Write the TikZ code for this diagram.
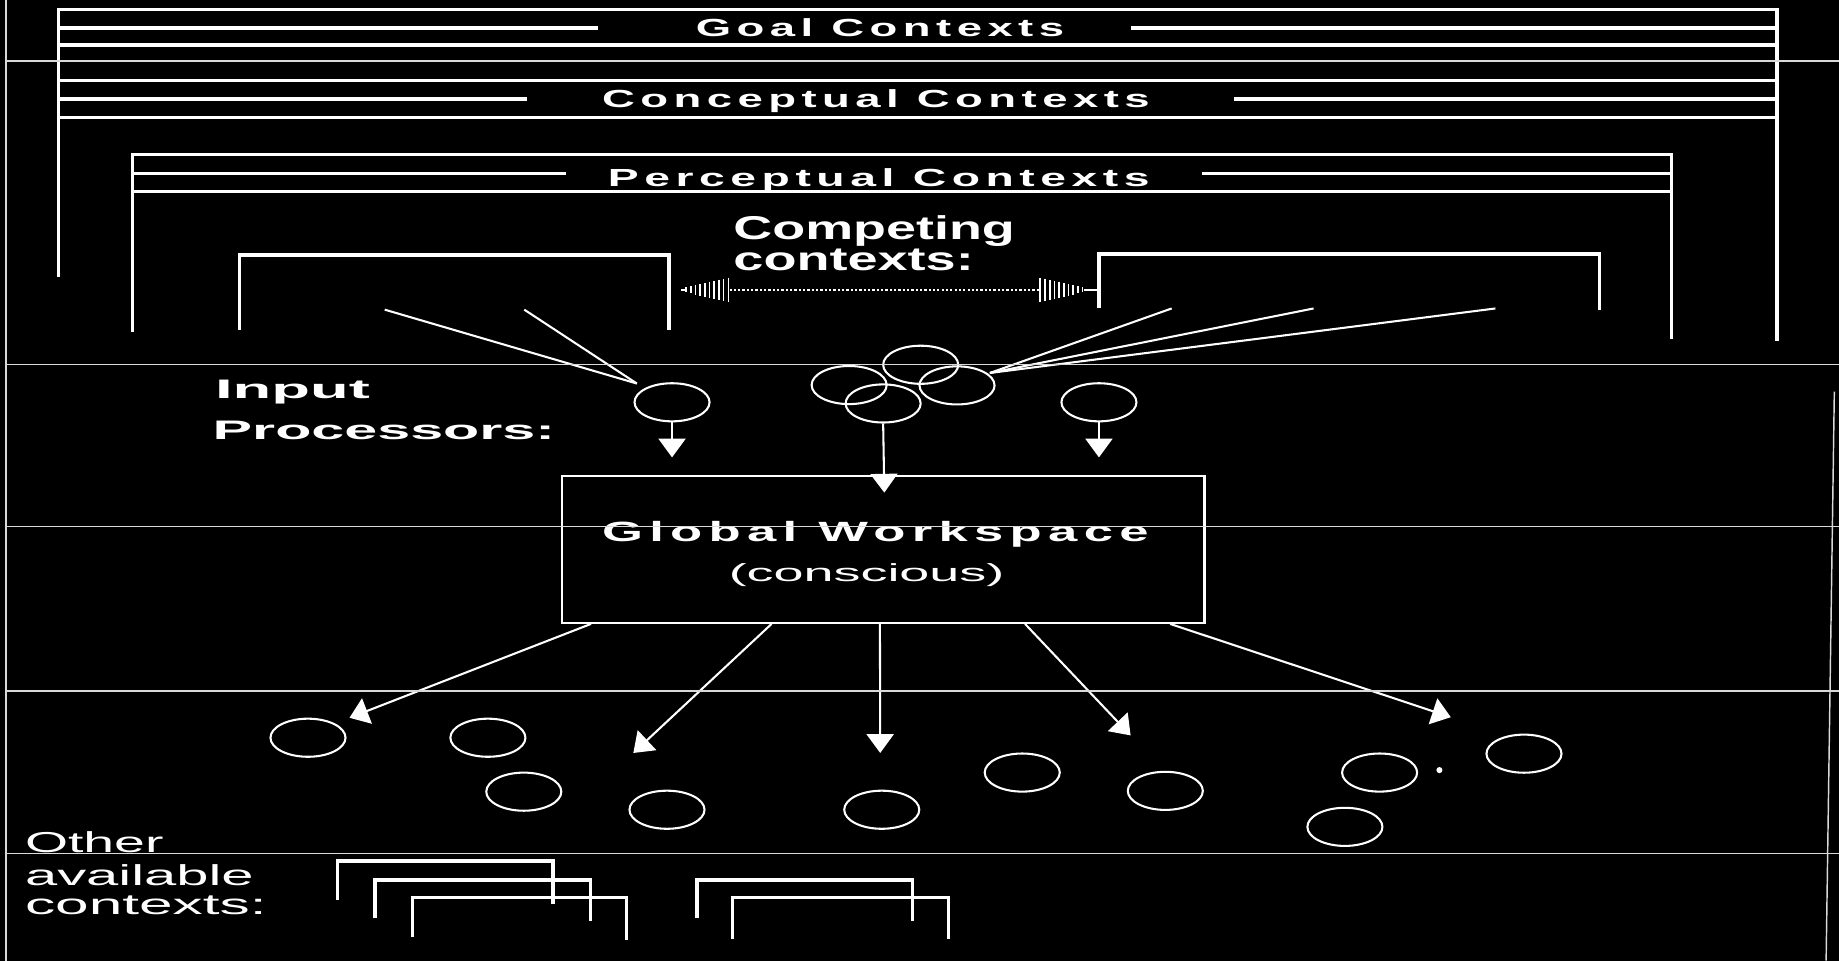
\documentclass[tikz,border=0pt]{standalone}
\usepackage{fontspec}
\usepackage{graphicx}
\setmainfont{Liberation Sans}
\newfontfamily\ttlfont{Liberation Sans}[LetterSpace=12]
\usetikzlibrary{shapes.geometric,arrows.meta,calc}
\newcommand\hs[2]{\resizebox{#1}{\height}{#2}}
\begin{document}
\begin{tikzpicture}[x=0.02cm,y=-0.02cm,
  wl/.style={draw=white,line width=1.6pt},
  scan/.style={draw=white!85!black,line width=0.7pt},
  ell/.style={ellipse,draw=white,line width=1pt,minimum width=1.28cm,minimum height=0.65cm,inner sep=0pt},
  arr/.style={draw=white,line width=1pt,-{Triangle[length=0.32cm,width=0.46cm]}},
  ctx/.style={draw=white,line width=1pt},
  txt/.style={text=white,inner sep=0pt,anchor=base west},
  ttl/.style={txt,font=\ttlfont\bfseries\fontsize{12}{14}\selectfont},
  bigb/.style={txt,font=\bfseries\fontsize{16}{19}\selectfont},
  midb/.style={txt,font=\bfseries\fontsize{13}{15}\selectfont},
  reg/.style={txt,font=\fontsize{14}{16}\selectfont},
  wave/.style={draw=white,line width=0.8pt}
  ]
\fill[black] (0,0) rectangle (1568,819);
\useasboundingbox (0,0) rectangle (1568,819);

% ---------- Goal / Conceptual contexts (outer bracket)
\draw[wl] (50,236) -- (50,8.2) -- (1515,8.2) -- (1515,291);
\draw[wl] (50,23.8) -- (510,23.8);
\draw[wl] (964,23.8) -- (1515,23.8);
\draw[wl] (50,38.4) -- (1515,38.4);
\draw[wl] (50,68.8) -- (1515,68.8);
\draw[wl] (50,84.5) -- (449,84.5);
\draw[wl] (1052,84.5) -- (1515,84.5);
\draw[wl] (50,100.1) -- (1515,100.1);
\node[ttl] (goal) at (593,31) {\hs{6.28cm}{Goal Contexts}};
\node[ttl] (concept) at (513,92) {\hs{9.34cm}{Conceptual Contexts}};

% ---------- Perceptual contexts
\draw[wl] (113,283) -- (113,132) -- (1425,132) -- (1425,289);
\draw[wl] (113,148) -- (483,148);
\draw[wl] (1025,148) -- (1425,148);
\draw[wl] (113,163.5) -- (1425,163.5);
\node[ttl] (percept) at (518,159) {\hs{9.24cm}{Perceptual Contexts}};

% ---------- Competing contexts
\draw[wl] (204.5,281) -- (204.5,217.5) -- (570.5,217.5) -- (570.5,281);
\draw[wl] (937,263) -- (937,216.5) -- (1364,216.5) -- (1364,264);
\node[bigb] (comp1) at (625,204.5) {\hs{4.8cm}{Competing}};
\node[bigb] (comp2) at (625,231) {\hs{4.1cm}{contexts:}};
\coordinate (cbL) at (570.5,247);
\coordinate (cbR) at (937,247);
\coordinate (wL) at (581,247);
\coordinate (wR) at (924,247);
\draw[wave] (wL) -- (586,247);
\foreach \i in {0,...,9}{
  \pgfmathsetmacro\xx{585+\i*4}
  \pgfmathsetmacro\hh{2.3+\i*0.9}
  \draw[wave] (\xx,247-\hh) -- (\xx,247+\hh);
  \pgfmathsetmacro\xr{887+\i*4}
  \pgfmathsetmacro\hr{10.4-\i*0.9}
  \draw[wave] (\xr,247-\hr) -- (\xr,247+\hr);
}
\draw[draw=white,line width=1pt,dash pattern=on 1.1pt off 1pt] (622,247) -- (887,247);
\draw[wave] (wR) -- (cbR);

% ---------- Input processors
\node[midb] (inp1) at (183,340) {\hs{2.64cm}{Input}};
\node[midb] (inp2) at (181,375) {\hs{5.84cm}{Processors:}};
\node[ell] (ipL) at (573,343) {};
\node[ell] (ipR) at (937,343) {};
\node[ell] (cA) at (785,311) {};
\node[ell] (cB) at (724,328.3) {};
\node[ell] (cD) at (816,328.6) {};
\node[ell] (cC) at (753,344) {};

% context influences
\coordinate (sL1) at (328,264);
\coordinate (sL2) at (447,264);
\coordinate (eL) at (543,327);
\draw[ctx] (sL1) -- (eL);
\draw[ctx] (sL2) -- (eL);
\coordinate (sR1) at (999,263);
\coordinate (sR2) at (1120,263);
\coordinate (sR3) at (1275,263);
\coordinate (eR) at (844,318);
\draw[ctx] (sR1) -- (eR);
\draw[ctx] (sR2) -- (eR);
\draw[ctx] (sR3) -- (eR);

% ---------- Global workspace
\node[draw=white,line width=1.1pt,minimum width=10.96cm,minimum height=2.5cm,inner sep=0pt] (ws) at (753,468.5) {};
\node[txt,font=\ttlfont\bfseries\fontsize{13.5}{15}\selectfont] (gw) at (513,462) {\hs{9.32cm}{Global Workspace}};
\node[txt,font=\fontsize{12}{14}\selectfont] (consc) at (621,496) {\hs{4.7cm}{(conscious)}};

\coordinate (tL) at (573,390);
\coordinate (tR) at (937,390);
\coordinate (t0) at (754,420);
\draw[arr] (ipL.south) -- (tL);
\draw[arr] (ipR.south) -- (tR);
\draw[arr] (cC.south) -- (t0);

% ---------- broadcast
\coordinate (t1) at (298,612);
\coordinate (t2) at (540,642);
\coordinate (t3) at (750.5,642);
\coordinate (t4) at (964,627);
\coordinate (t5) at (1237,611.5);
\draw[arr] ($(ws.south west)!0.047!(ws.south east)$) -- (t1);
\draw[arr] ($(ws.south west)!0.327!(ws.south east)$) -- (t2);
\draw[arr] ($(ws.south west)!0.495!(ws.south east)$) -- (t3);
\draw[arr] ($(ws.south west)!0.72!(ws.south east)$) -- (t4);
\draw[arr] ($(ws.south west)!0.945!(ws.south east)$) -- (t5);

\node[ell] (o1) at (262.6,629) {};
\node[ell] (o2) at (416,629) {};
\node[ell] (o3) at (446.6,675) {};
\node[ell] (o4) at (568.7,690.4) {};
\node[ell] (o5) at (751.8,690.4) {};
\node[ell] (o6) at (871.6,658.7) {};
\node[ell] (o7) at (993.6,674.3) {};
\node[ell] (o8) at (1176.3,658.7) {};
\node[ell] (o9) at (1146.7,705) {};
\node[ell] (o10) at (1299.4,642.6) {};
\fill[white] (1227.3,656.6) circle (2.6);

% ---------- Other available contexts
\node[reg] (oth1) at (21,727) {\hs{2.36cm}{Other}};
\node[reg] (oth2) at (21,755) {\hs{3.9cm}{available}};
\node[reg] (oth3) at (21,780) {\hs{4.12cm}{contexts:}};
\draw[wl] (288,767.4) -- (288,734) -- (471.6,734) -- (471.6,771);
\draw[wl] (319.7,783) -- (319.7,750.3) -- (503.6,750.3) -- (503.6,785);
\draw[wl] (351.7,799.2) -- (351.7,765.4) -- (534,765.4) -- (534,801.5);
\draw[wl] (594.2,783) -- (594.2,750.3) -- (778,750.3) -- (778,785);
\draw[wl] (624.6,801) -- (624.6,765.4) -- (809,765.4) -- (809,801);

% ---------- scan lines and frame
\draw[scan] (5,0) -- (5,819);
\draw[scan] (1564,334) -- (1557,819);
\foreach \yy in {52,310.6,449.1,589.2,727.6}{
  \draw[scan] (5,\yy) -- (1568,\yy);
}
\end{tikzpicture}
\end{document}
